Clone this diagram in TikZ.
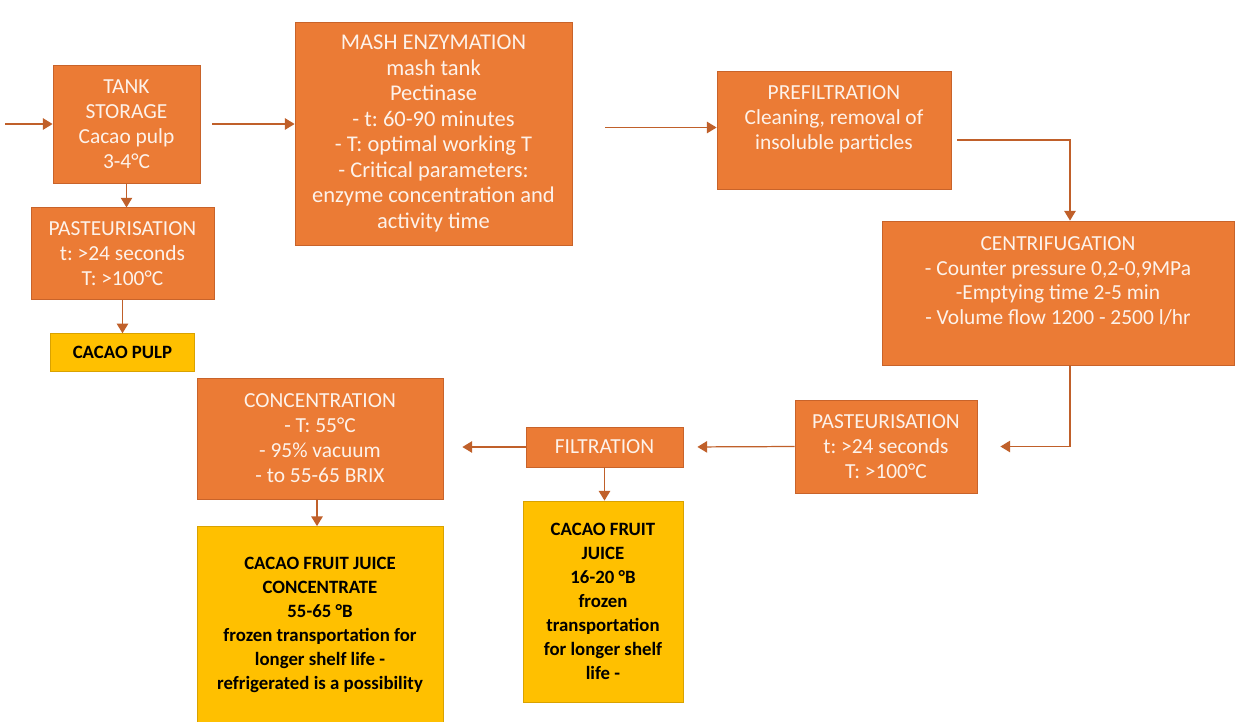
\documentclass[tikz,border=0pt]{standalone}
\usepackage{fontspec}
\setmainfont{Carlito}
\usepackage{tikz}
\usetikzlibrary{positioning,calc,arrows.meta}
\definecolor{procfill}{HTML}{EB7B35}
\definecolor{procline}{HTML}{C8632A}
\definecolor{proctext}{HTML}{FDF2EA}
\definecolor{prodfill}{HTML}{FFC000}
\definecolor{prodline}{HTML}{D9A200}
\definecolor{flowcol}{HTML}{C0602A}
\frenchspacing

\begin{document}
\begin{tikzpicture}[x=0.02cm,y=-0.02cm,
font=\fontsize{12.2}{14.2}\selectfont]
   \tikzstyle{proc}=[rectangle,draw=procline,fill=procfill,text=proctext,align=center,inner sep=2pt,line width=0.5pt]
   \tikzstyle{prod}=[rectangle,draw=prodline,fill=prodfill,text=black,align=center,inner sep=2pt,line width=0.5pt,font=\fontsize{10.7}{13.7}\selectfont\bfseries]
   \tikzstyle{flow}=[draw=flowcol,line width=0.7pt,-{Triangle[width=6.5pt,length=5.5pt]}]
\useasboundingbox[fill=white] (0,0) rectangle (1244,721);
\node[proc, minimum width=2.94cm, minimum height=2.36cm] (ts) at (126.5,124)
  {TANK\\STORAGE\\Cacao pulp\\3-4°C};
\node[proc, minimum width=3.66cm, minimum height=1.84cm] (past1) [below=0.48cm of ts, xshift=-0.08cm]
  {PASTEURISATION\\t: >24 seconds\\T: >100°C};
\node[prod, minimum width=2.88cm, minimum height=0.76cm] (pulp) [below=0.66cm of past1]
  {CACAO PULP};
\node[proc, minimum width=5.54cm, minimum height=4.46cm, font=\fontsize{12.8}{14.5}\selectfont] (mash) at (433.5,133.5)
  {MASH ENZYMATION\\mash tank\\Pectinase\\- t: 60-90 minutes\\- T: optimal working T\\- Critical parameters:\\enzyme concentration and\\activity time};
\node[proc, minimum width=4.68cm, minimum height=2.36cm] (pref) at (834,130)
  {PREFILTRATION\\Cleaning, removal of\\insoluble particles\\~};
\node[proc, minimum width=7.04cm, minimum height=2.88cm] (cent) at (1058,293)
  {CENTRIFUGATION\\- Counter pressure 0,2-0,9MPa\\-Emptying time 2-5 min\\- Volume flow 1200 - 2500 l/hr\\~};
\node[proc, minimum width=3.64cm, minimum height=1.86cm] (past2) at (886,446.5)
  {PASTEURISATION\\t: >24 seconds\\T: >100°C};
\node[proc, minimum width=3.14cm, minimum height=0.80cm] (filt) at (604.5,447)
  {FILTRATION};
\node[proc, minimum width=4.92cm, minimum height=2.42cm] (conc) at (320,438.5)
  {CONCENTRATION\\- T: 55°C\\- 95\% vacuum\\- to 55-65 BRIX};
\node[prod, minimum width=4.92cm, minimum height=3.94cm] (cfjc) at (320,625)
  {CACAO FRUIT JUICE\\CONCENTRATE\\55-65 °B\\frozen transportation for\\longer shelf life -\\refrigerated is a possibility};
\node[prod, minimum width=3.20cm, minimum height=4.02cm] (cfj) at (603,601.5)
  {CACAO FRUIT\\JUICE\\16-20 °B\\frozen\\transportation\\for longer shelf\\life -};
\coordinate (in) at (5,124);

\draw[flow] (in) -- (ts.west);
\draw[flow, shorten <=0.24cm] (ts.east) -- (ts.east -| mash.west);
\draw[flow, shorten <=0.66cm] ($(mash.east)+(0,-6)$) -- ($(mash.east -| pref.west)+(0,-6)$);
\draw[flow, shorten <=0.12cm] ($(pref.east)+(0,10)$) -| ($(cent.north)+(12,0)$);
\draw[flow, shorten >=0.46cm] ($(cent.south)+(12,0)$) |- (past2.east);
\draw[flow, shorten >=0.28cm] (past2.west) -- (filt.east);
\draw[flow, shorten >=0.38cm] (filt.west) -- (filt.west -| conc.east);
\draw[flow] (ts.south) -- (past1.north -| ts.south);
\draw[flow] (past1.south) -- (pulp.north -| past1.south);
\draw[flow] ($(conc.south)+(-3,0)$) -- ($(cfjc.north)+(-3,0)$);
\draw[flow] (filt.south) -- (filt.south |- cfj.north);
\end{tikzpicture}
\end{document}
